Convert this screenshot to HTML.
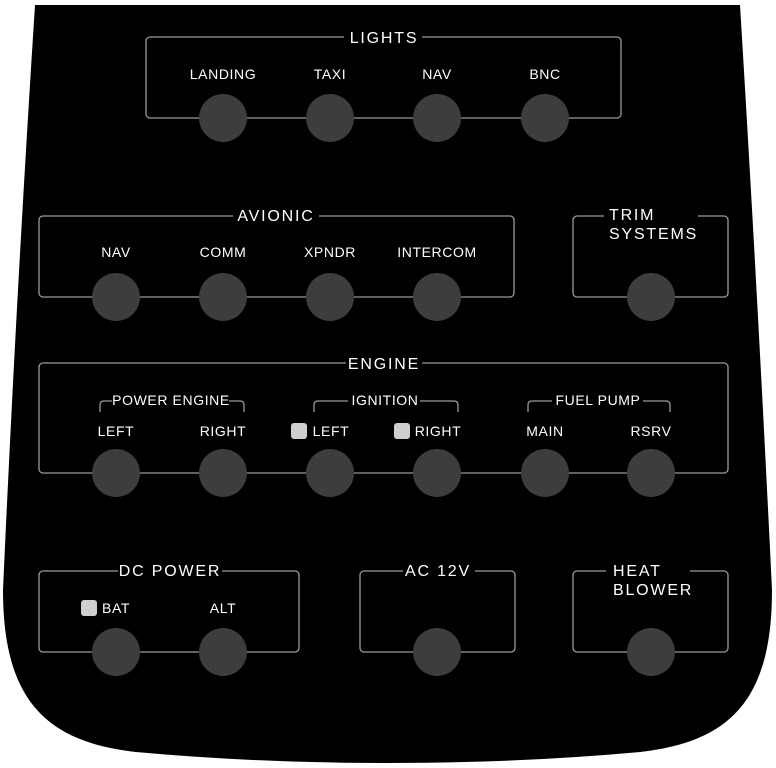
<!DOCTYPE html>
<html><head><meta charset="utf-8"><style>
html,body{margin:0;padding:0;background:#fff;}
svg{display:block}
text{font-family:"Liberation Sans","DejaVu Sans",sans-serif;fill:#fff;}
.t{font-size:16px;letter-spacing:1.8px;}
.l{font-size:14px;letter-spacing:0.6px}
</style></head><body>
<svg width="776" height="768" viewBox="0 0 776 768" xmlns="http://www.w3.org/2000/svg">
<path d="M35,5 L740,5 Q758,300 772,590 C772,700 730,742 640,752 Q520,763 388,763 Q256,763 136,752 C46,742 3,700 3,590 Q16,300 35,5 Z" fill="#000"/>
<g fill="none" stroke="#9a9a9a" stroke-width="1.3">
<rect x="146" y="37" width="475" height="81" rx="4"/>
<rect x="39" y="216" width="475" height="81" rx="4"/>
<rect x="573" y="216" width="155" height="81" rx="4"/>
<rect x="39" y="363" width="689" height="110" rx="4"/>
<rect x="39" y="571" width="260" height="81" rx="4"/>
<rect x="360" y="571" width="155" height="81" rx="4"/>
<rect x="573" y="571" width="155" height="81" rx="4"/>
<path d="M100,412 V405 Q100,401 104,401 H112 M229,401 H240 Q244,401 244,405 V412"/>
<path d="M314,412 V405 Q314,401 318,401 H348 M420,401 H454 Q458,401 458,405 V412"/>
<path d="M528,412 V405 Q528,401 532,401 H552 M643,401 H666 Q670,401 670,405 V412"/>
</g>
<g fill="#000">
<rect x="344" y="30" width="78" height="14"/>
<rect x="233" y="209" width="86" height="14"/>
<rect x="604" y="209" width="94" height="14"/>
<rect x="346" y="356" width="76" height="14"/>
<rect x="118" y="564" width="104" height="14"/>
<rect x="403" y="564" width="72" height="14"/>
<rect x="606" y="564" width="84" height="14"/>
</g>
<text class="t" x="384" y="43" text-anchor="middle">LIGHTS</text>
<text class="t" x="276" y="221" text-anchor="middle">AVIONIC</text>
<text class="t" x="609" y="220">TRIM</text>
<text class="t" x="609" y="239">SYSTEMS</text>
<text class="t" x="384" y="369" text-anchor="middle">ENGINE</text>
<text class="t" x="170" y="576" text-anchor="middle">DC POWER</text>
<text class="t" x="438" y="576" text-anchor="middle">AC 12V</text>
<text class="t" x="613" y="576">HEAT</text>
<text class="t" x="613" y="595">BLOWER</text>
<g text-anchor="middle">
<text class="l" x="223" y="79">LANDING</text>
<text class="l" x="330" y="79">TAXI</text>
<text class="l" x="437" y="79">NAV</text>
<text class="l" x="545" y="79">BNC</text>
<text class="l" x="116" y="257">NAV</text>
<text class="l" x="223" y="257">COMM</text>
<text class="l" x="330" y="257">XPNDR</text>
<text class="l" x="437" y="257">INTERCOM</text>
<text class="l" x="171" y="405">POWER ENGINE</text>
<text class="l" x="385" y="405">IGNITION</text>
<text class="l" x="598" y="405">FUEL PUMP</text>
<text class="l" x="116" y="436">LEFT</text>
<text class="l" x="223" y="436">RIGHT</text>
<text class="l" x="331" y="436">LEFT</text>
<text class="l" x="438" y="436">RIGHT</text>
<text class="l" x="545" y="436">MAIN</text>
<text class="l" x="651" y="436">RSRV</text>
<text class="l" x="116" y="613">BAT</text>
<text class="l" x="223" y="613">ALT</text>
</g>
<g fill="#cfcfcf">
<rect x="291" y="423" width="16" height="16" rx="3"/>
<rect x="394" y="423" width="16" height="16" rx="3"/>
<rect x="81" y="600" width="16" height="16" rx="3"/>
</g>
<g fill="#3d3d3d">
<circle cx="223" cy="118" r="24"/><circle cx="330" cy="118" r="24"/><circle cx="437" cy="118" r="24"/><circle cx="545" cy="118" r="24"/>
<circle cx="116" cy="297" r="24"/><circle cx="223" cy="297" r="24"/><circle cx="330" cy="297" r="24"/><circle cx="437" cy="297" r="24"/><circle cx="651" cy="297" r="24"/>
<circle cx="116" cy="473" r="24"/><circle cx="223" cy="473" r="24"/><circle cx="330" cy="473" r="24"/><circle cx="437" cy="473" r="24"/><circle cx="545" cy="473" r="24"/><circle cx="651" cy="473" r="24"/>
<circle cx="116" cy="652" r="24"/><circle cx="223" cy="652" r="24"/><circle cx="437" cy="652" r="24"/><circle cx="651" cy="652" r="24"/>
</g>
</svg>
</body></html>
